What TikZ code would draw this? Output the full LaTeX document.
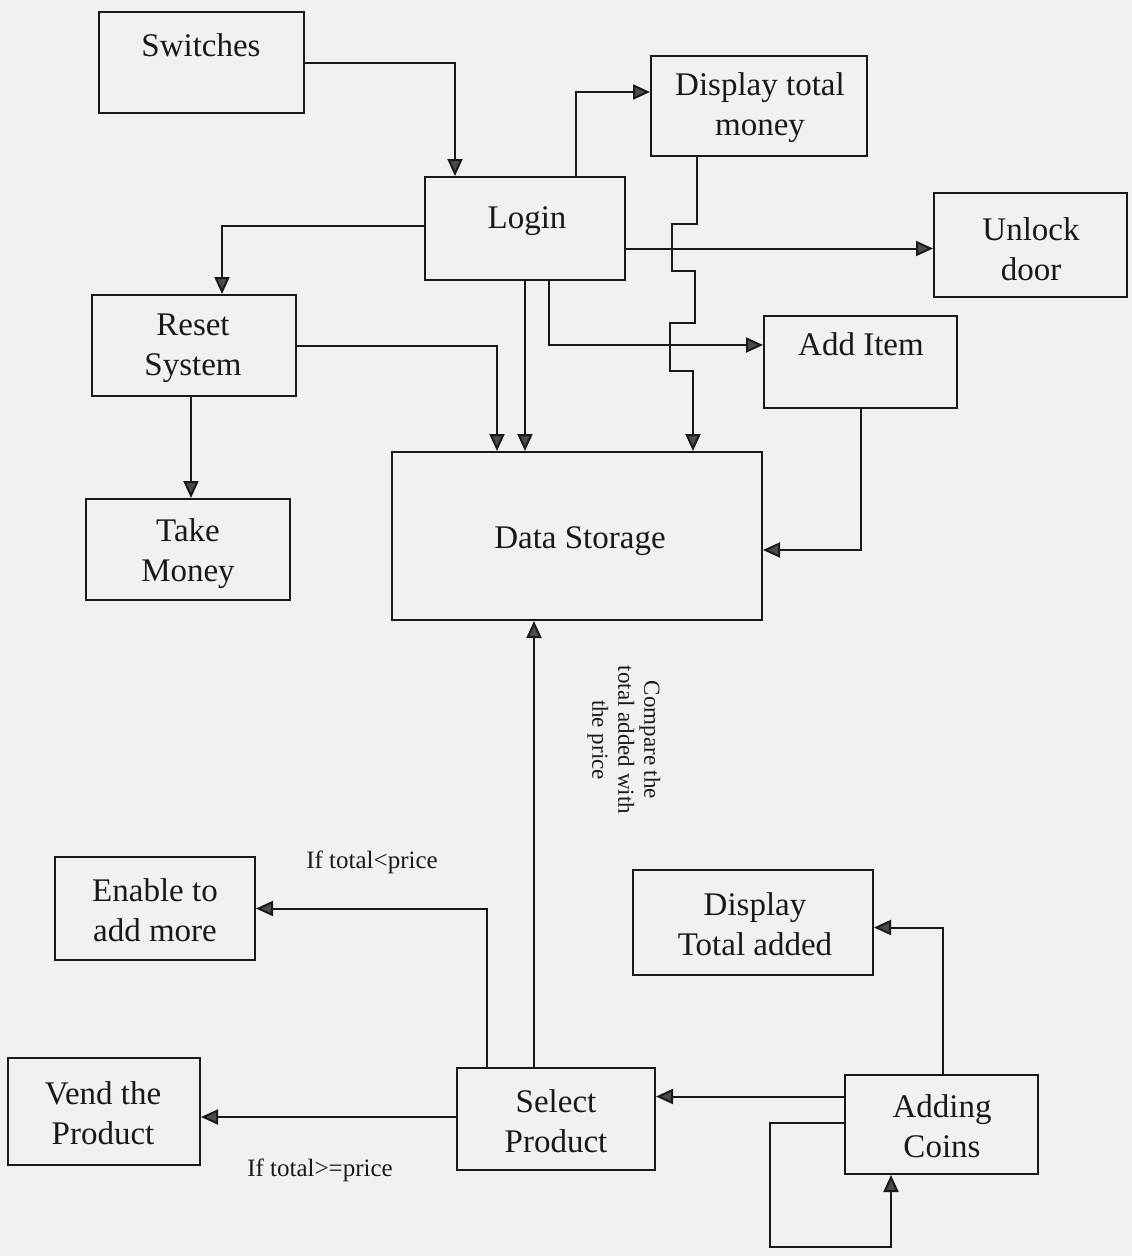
\documentclass[tikz,border=0pt]{standalone}
\usepackage{fontspec}
\setmainfont{Liberation Serif}
\usetikzlibrary{arrows.meta,calc}
\definecolor{paper}{RGB}{241,241,239}
\definecolor{ink}{RGB}{25,25,25}
\definecolor{tipgray}{RGB}{75,75,75}
\begin{document}
\begin{tikzpicture}[x=1pt,y=-1pt,
  box/.style={draw=ink,line width=2pt,inner sep=0pt},
  txt/.style={inner sep=0pt,align=center,text=ink,font=\fontsize{33}{40}\selectfont},
  note/.style={inner sep=0pt,align=center,text=ink,font=\fontsize{25}{26}\selectfont},
  flow/.style={draw=ink,line width=2pt,
    -{Triangle[length=17pt,width=15pt,fill=tipgray]}}
]
% page
\path[fill=paper] (0,0) rectangle (1132,1256);
\useasboundingbox (0,0) rectangle (1132,1256);

% boxes (placed at their centres) and their captions
\node[box,minimum width=205,minimum height=101] (sw) at (201.5,62.5) {};
\node[txt] (sw-t) at (201,45) {Switches};
\node[box,minimum width=200,minimum height=103] (login) at (525,228.5) {};
\node[txt] (login-t) at (527,221) {Login};
\node[box,minimum width=216,minimum height=100] (dtm) at (759,106) {};
\node[txt] (dtm-t) at (760,108) {Display total\\money};
\node[box,minimum width=193,minimum height=104] (unlock) at (1030.5,245) {};
\node[txt] (unlock-t) at (1031,249) {Unlock\\door};
\node[box,minimum width=204,minimum height=101] (reset) at (194,345.5) {};
\node[txt] (reset-t) at (193,348.5) {Reset\\System};
\node[box,minimum width=193,minimum height=92] (additem) at (860.5,362) {};
\node[txt] (additem-t) at (861,344) {Add Item};
\node[box,minimum width=204,minimum height=101] (take) at (188,549.5) {};
\node[txt] (take-t) at (188,553.5) {Take\\Money};
\node[box,minimum width=370,minimum height=168] (ds) at (577,536) {};
\node[txt] (ds-t) at (580,541) {Data Storage};
\node[box,minimum width=200,minimum height=103] (enable) at (155,908.5) {};
\node[txt] (enable-t) at (155,910.5) {Enable to\\add more};
\node[box,minimum width=240,minimum height=105] (dta) at (753,922.5) {};
\node[txt] (dta-t) at (755,924.5) {Display\\Total added};
\node[box,minimum width=192,minimum height=107] (vend) at (104,1111.5) {};
\node[txt] (vend-t) at (103,1113.5) {Vend the\\Product};
\node[box,minimum width=198,minimum height=102] (select) at (556,1119) {};
\node[txt] (select-t) at (556,1121) {Select\\Product};
\node[box,minimum width=193,minimum height=99] (coins) at (941.5,1124.5) {};
\node[txt] (coins-t) at (942,1126) {Adding\\Coins};

% connectors
\draw[flow] (sw.east) -| ($(login.north west)+(31,0)$);
\draw[flow] ($(login.west)+(0,-3)$) -| ($(reset.north)+(28,0)$);
\draw[flow] ($(login.north)+(51,0)$) |- ($(dtm.west)+(0,-14)$);
\draw[flow] ($(dtm.south west)+(47,0)$) -- ++(0,67) -- ++(-25,0) -- ++(0,47)
  -- ++(23,0) -- ++(0,52) -- ++(-25,0) -- ++(0,48) -- ++(23,0) coordinate (zz)
  -- (zz |- ds.north);
\draw[flow] ($(login.east)+(0,20)$) coordinate (lu) -- (lu -| unlock.west);
\draw[flow] ($(login.south)+(24,0)$) |- ($(additem.west)+(0,-17)$);
\draw[flow] (login.south) -- (login.south |- ds.north);
\draw[flow] (reset.east) -| ($(ds.north west)+(106,0)$);
\draw[flow] ($(reset.south)+(-3,0)$) coordinate (rs) -- (rs |- take.north);
\draw[flow] (additem.south) |- ($(ds.east)+(0,14)$);
\draw[flow] ($(select.north)+(-22,0)$) coordinate (sp) -- (sp |- ds.south);
\draw[flow] ($(select.north)+(-69,0)$) |- (enable.east);
\draw[flow] ($(select.west)+(0,-2)$) coordinate (sv) -- (sv -| vend.east);
\draw[flow] ($(coins.west)+(0,-28)$) coordinate (cw) -- (cw -| select.east);
\draw[flow] ($(coins.north)+(1.5,0)$) |- ($(dta.east)+(0,5)$);
\draw[flow] ($(coins.west)+(0,-2)$) -| ($(coins.south west)+(-74,72)$)
  -| ($(coins.south west)+(47,0)$);

% connector labels
\node[note,rotate=-90,font=\fontsize{23}{26}\selectfont] (cmp) at (624,740)
  {Compare the\\total added with\\the price};
\node[note] (lt) at (372,862) {If total<price};
\node[note] (ge) at (320,1170) {If total>=price};
\end{tikzpicture}
\end{document}
